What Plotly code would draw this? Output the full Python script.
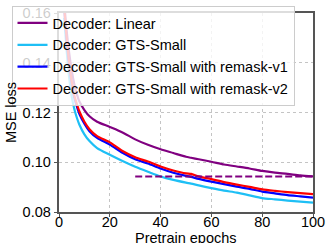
import plotly.graph_objects as go

epochs = [2, 3, 4, 5, 6, 7, 8, 10, 12, 15, 20, 25, 30, 35, 40, 45, 50, 52, 55, 60, 65, 70, 75, 80, 85, 90, 95, 100]

linear = [0.165, 0.153, 0.144, 0.137, 0.1315, 0.1275, 0.1245, 0.1210, 0.1185, 0.1163, 0.1142, 0.1120,
          0.1092, 0.1070, 0.1052, 0.1037, 0.1022, 0.1018, 0.1012, 0.1002, 0.0991, 0.0983, 0.0975,
          0.0965, 0.0958, 0.0953, 0.0947, 0.0943]
gts_small = [0.158, 0.145, 0.134, 0.1265, 0.1215, 0.1180, 0.1152, 0.1112, 0.1085, 0.1057, 0.1030,
             0.1005, 0.0982, 0.0962, 0.0943, 0.0929, 0.0918, 0.0914, 0.0907, 0.0896, 0.0886, 0.0878,
             0.0867, 0.0856, 0.0851, 0.0846, 0.0842, 0.0838]
remask_v1 = [0.162, 0.149, 0.139, 0.1315, 0.126, 0.1225, 0.1195, 0.1155, 0.1125, 0.1098, 0.1071,
             0.1038, 0.1012, 0.0995, 0.0975, 0.0958, 0.0945, 0.0941, 0.0933, 0.0922, 0.0912, 0.0902,
             0.0893, 0.0882, 0.0875, 0.0868, 0.0863, 0.0858]
remask_v2 = [0.163, 0.150, 0.140, 0.1325, 0.127, 0.1235, 0.1205, 0.1163, 0.1133, 0.1105, 0.1080,
             0.1045, 0.1020, 0.1003, 0.0983, 0.0967, 0.0955, 0.0953, 0.0943, 0.0932, 0.0920, 0.0910,
             0.0901, 0.0891, 0.0885, 0.0880, 0.0876, 0.0872]

ref_x = [30, 100]
ref_y = [0.0943, 0.0943]

names = ["Decoder: Linear", "Decoder: GTS-Small",
         "Decoder: GTS-Small with remask-v1", "Decoder: GTS-Small with remask-v2"]
colors = ["#800080", "#1EBFF5", "#0000FF", "#FF0000"]
series = [linear, gts_small, remask_v1, remask_v2]

FONT = "Liberation Sans, Arial, sans-serif"

fig = go.Figure()
for n, c, s in zip(names, colors, series):
    fig.add_trace(go.Scatter(x=epochs, y=s, mode="lines", name=n,
                             line=dict(color=c, width=2.2, shape="spline", smoothing=0.7)))
fig.add_trace(go.Scatter(x=ref_x, y=ref_y, mode="lines", showlegend=False,
                         line=dict(color="#800080", width=2, dash="7px,3px")))

axis_common = dict(showline=True, linecolor="#555555", linewidth=1.5, mirror=True,
                   showgrid=True, gridcolor="#c4c4c4", griddash="3px,3px", gridwidth=1,
                   ticks="outside", ticklen=3.5, tickcolor="#555555", tickwidth=1,
                   zeroline=False, tickfont=dict(size=14.5, color="black", family=FONT))

fig.update_xaxes(range=[0, 100], tickvals=[0, 20, 40, 60, 80, 100],
                 ticklabelstandoff=-8, **axis_common)
fig.update_yaxes(range=[0.08, 0.16], tickvals=[0.08, 0.10, 0.12, 0.14, 0.16],
                 tickformat=".2f",
                 title=dict(text="MSE loss", font=dict(size=14.5, color="black", family=FONT),
                            standoff=3),
                 **axis_common)

fig.add_annotation(text="Pretrain epochs", xref="paper", yref="paper", x=0.5, y=-0.13,
                   xanchor="center", yanchor="middle", showarrow=False,
                   font=dict(size=14.5, color="black", family=FONT))

fig.update_layout(
    width=326, height=243,
    margin=dict(l=59, r=13, t=13, b=31, autoexpand=False),
    paper_bgcolor="white", plot_bgcolor="white",
    font=dict(family=FONT, size=14.5, color="black"),
    legend=dict(x=-0.187, y=1.035, xanchor="left", yanchor="top",
                bgcolor="rgba(255,255,255,0.8)", bordercolor="#cccccc", borderwidth=1,
                font=dict(size=14.5, color="black", family=FONT),
                tracegroupgap=0),
)

fig.write_html("out.html", config={"displayModeBar": False},
               post_script="document.body.style.margin='0';document.body.style.padding='0';")
